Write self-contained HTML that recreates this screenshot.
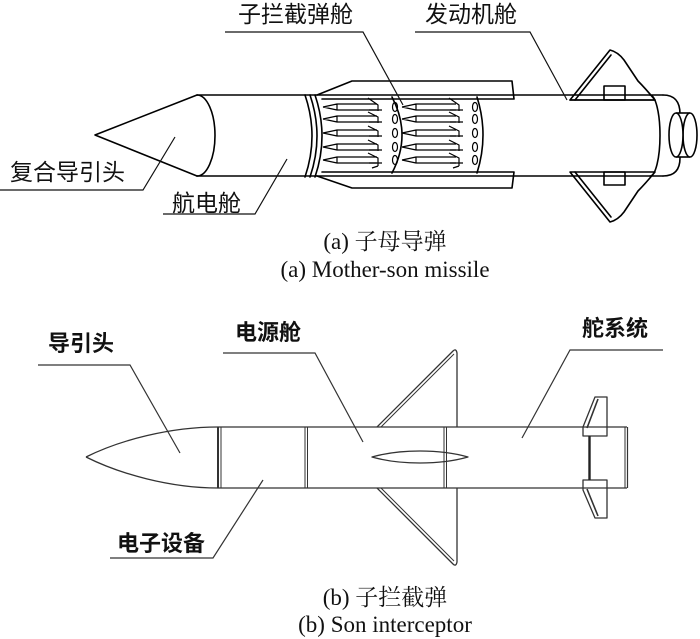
<!DOCTYPE html>
<html>
<head>
<meta charset="utf-8">
<style>
html,body{margin:0;padding:0;background:#fff;}
svg{display:block;}
.lab{font-family:"Liberation Sans","Noto Sans CJK SC",sans-serif;font-size:23px;fill:#111;}
.labb{font-family:"Liberation Sans","Noto Sans CJK SC",sans-serif;font-size:22px;font-weight:bold;fill:#111;}
.cap{font-family:"Liberation Serif","Noto Serif CJK SC",serif;font-size:23px;fill:#111;}
</style>
</head>
<body>
<svg width="700" height="639" viewBox="0 0 700 639" xmlns="http://www.w3.org/2000/svg">
<!-- ===== TOP: mother missile ===== -->
<g fill="none" stroke="#000" stroke-width="1.6" stroke-linejoin="round" stroke-linecap="round">
  <!-- nose cone -->
  <path d="M197 95 L95 135 L197 176"/>
  <path d="M197 95 A18 40.5 0 0 1 197 176"/>
  <!-- body -->
  <line x1="197" y1="95" x2="663" y2="95"/>
  <line x1="197" y1="176" x2="663" y2="176"/>
  <!-- ring -->
  <path d="M305 95 Q319 136 305 177"/>
  <path d="M310 95 Q324 136 310 177"/>
  <path d="M315 95 Q329 136 315 177"/>
  <!-- sleeves -->
  <path d="M317 95 L352 81 L512 81 L514 99 L322 99"/>
  <path d="M317 176 L352 188 L512 188 L514 172 L322 172"/>
  <!-- divider arcs -->
  <path d="M392 97 Q412 135 392 173"/>
  <path d="M477 97 Q489 135 477 173"/>
  <!-- engine end -->
  <path d="M650 95 A10 40.5 0 0 1 650 176"/>
  <path d="M663 95 Q680 95 680 114 L680 158 Q680 176 663 176"/>
  <!-- fins -->
  <path d="M570 100 L610 50 Q618 52 624 60 Q632 72 638 81 Q645 88 655 100 Z"/>
  <line x1="575" y1="100" x2="611" y2="55"/>
  <line x1="570" y1="100" x2="655" y2="100"/>
  <rect x="604" y="86" width="21" height="14"/>
  <path d="M570 172 L610 222 Q618 220 624 212 Q632 200 638 191 Q645 184 655 172 Z"/>
  <line x1="575" y1="172" x2="611" y2="217"/>
  <rect x="604" y="172" width="21" height="13"/>
</g>
<!-- small missiles -->
<g fill="none" stroke="#000" stroke-width="1.2" stroke-linejoin="round">
  <path d="M323 107L337 104L377 104M323 107L337 110L377 110M337 104L337 110
  M323 119L337 116L377 116M323 119L337 122L377 122M337 116L337 122
  M323 133L337 130L377 130M323 133L337 136L377 136M337 130L337 136
  M323 147L337 144L377 144M323 147L337 150L377 150M337 144L337 150
  M323 160L337 157L377 157M323 160L337 163L377 163M337 157L337 163"/>
  <path d="M402 107L416 104L456 104M402 107L416 110L456 110M416 104L416 110
  M402 119L416 116L456 116M402 119L416 122L456 122M416 116L416 122
  M402 133L416 130L456 130M402 133L416 136L456 136M416 130L416 136
  M402 147L416 144L456 144M402 147L416 150L456 150M416 144L416 150
  M402 160L416 157L456 157M402 160L416 163L456 163M416 157L416 163"/>
  <!-- fins A -->
  <path d="M368 98 L378 105 L378 111 M369 110 L382 110
  M368 112 L378 117 L378 123 M369 122 L382 122
  M368 126 L378 131 L378 137 M369 136 L382 136
  M368 140 L378 145 L378 151 M369 150 L382 150
  M368 153 L378 158 L378 166 M369 163 L382 163 M372 168 L378 166"/>
  <!-- fins B -->
  <path d="M449 98 L459 105 L459 111 M450 110 L463 110
  M449 112 L459 117 L459 123 M450 122 L463 122
  M449 126 L459 131 L459 137 M450 136 L463 136
  M449 140 L459 145 L459 151 M450 150 L463 150
  M449 153 L459 158 L459 166 M450 163 L463 163 M453 168 L459 166"/>
  <!-- discs -->
  <ellipse cx="395" cy="107" rx="2.5" ry="4.5"/>
  <ellipse cx="395" cy="119" rx="2.5" ry="4.5"/>
  <ellipse cx="395" cy="133" rx="2.5" ry="4.5"/>
  <ellipse cx="395" cy="147" rx="2.5" ry="4.5"/>
  <ellipse cx="395" cy="160" rx="2.5" ry="4.5"/>
  <ellipse cx="475" cy="107" rx="2.5" ry="4.5"/>
  <ellipse cx="475" cy="119" rx="2.5" ry="4.5"/>
  <ellipse cx="475" cy="133" rx="2.5" ry="4.5"/>
  <ellipse cx="475" cy="147" rx="2.5" ry="4.5"/>
  <ellipse cx="475" cy="160" rx="2.5" ry="4.5"/>
</g>
<!-- nozzle -->
<g fill="#fff" stroke="#000" stroke-width="1.6">
  <path d="M676 113 L690 113 L690 157 L676 157 Z" stroke="none"/>
  <line x1="676" y1="113" x2="690" y2="113"/>
  <line x1="676" y1="157" x2="690" y2="157"/>
  <ellipse cx="690" cy="135" rx="7" ry="22"/>
  <ellipse cx="676" cy="135" rx="7" ry="22"/>
</g>
<!-- top leaders -->
<g fill="none" stroke="#111" stroke-width="1.2">
  <path d="M225 32 L363 32 L403 105"/>
  <path d="M415 32 L530 32 L567 100"/>
  <path d="M0 190 L143 190 L175 137"/>
  <path d="M163 214 L255 214 L287 159"/>
</g>
<text class="lab" x="238" y="22">子拦截弹舱</text>
<text class="lab" x="425" y="22">发动机舱</text>
<text class="lab" x="10" y="180">复合导引头</text>
<text class="lab" x="172" y="211">航电舱</text>
<text class="cap" x="385" y="249" text-anchor="middle">(a) 子母导弹</text>
<text class="cap" x="385" y="277" text-anchor="middle">(a) Mother-son missile</text>

<!-- ===== BOTTOM: son interceptor ===== -->
<g fill="none" stroke="#333" stroke-width="1.3" stroke-linejoin="round">
  <path d="M86 457 C120 440 170 427 218 427"/>
  <path d="M86 457 C120 474 170 488 218 488"/>
  <line x1="218" y1="427" x2="218" y2="488" stroke-width="2"/>
  <line x1="221" y1="427" x2="221" y2="488" stroke-width="1"/>
  <line x1="218" y1="427" x2="627" y2="427"/>
  <line x1="218" y1="488" x2="627" y2="488"/>
  <line x1="305" y1="427" x2="305" y2="488" stroke-width="1"/>
  <line x1="307.5" y1="427" x2="307.5" y2="488" stroke-width="1"/>
  <line x1="444" y1="427" x2="444" y2="488" stroke-width="1"/>
  <line x1="446.5" y1="427" x2="446.5" y2="488" stroke-width="1"/>
  <line x1="625" y1="427" x2="625" y2="488" stroke-width="1"/>
  <line x1="627.5" y1="427" x2="627.5" y2="488" stroke-width="1.2"/>
  <!-- wings -->
  <path d="M377 427 L453 351 Q456 348 457 353 L457 427"/>
  <line x1="381" y1="427" x2="454" y2="354" stroke-width="1"/>
  <path d="M377 488 L453 564 Q456 567 457 562 L457 488"/>
  <line x1="381" y1="488" x2="454" y2="561" stroke-width="1"/>
  <!-- airfoil -->
  <path d="M372 457 C400 449 440 449 468 457 C440 465 400 465 372 457 Z"/>
  <!-- rudders -->
  <path d="M595 397 L607 397 L607 436 L583 436 L583 427 Z"/>
  <line x1="598" y1="399" x2="587" y2="428" stroke-width="1.6"/>
  <path d="M583 480 L607 480 L607 518 L595 518 L583 490 Z"/>
  <line x1="587" y1="489" x2="598" y2="516" stroke-width="1.6"/>
  <line x1="589.5" y1="436" x2="589.5" y2="480" stroke-width="2.4" stroke="#222"/>
</g>
<!-- bottom leaders -->
<g fill="none" stroke="#333" stroke-width="1.2">
  <path d="M38 365 L130 365 L180 453"/>
  <path d="M223 353 L315 353 L363 442"/>
  <path d="M663 350 L570 350 L522 438"/>
  <path d="M110 558 L213 558 L263 480"/>
</g>
<text class="labb" x="48" y="351">导引头</text>
<text class="labb" x="235" y="340">电源舱</text>
<text class="labb" x="582" y="336">舵系统</text>
<text class="labb" x="117" y="551">电子设备</text>
<text class="cap" x="385" y="605" text-anchor="middle">(b) 子拦截弹</text>
<text class="cap" x="385" y="632" text-anchor="middle">(b) Son interceptor</text>
</svg>
</body>
</html>
